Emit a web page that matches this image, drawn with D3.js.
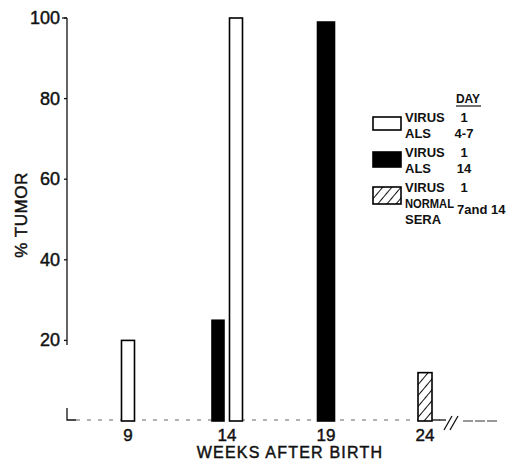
<!DOCTYPE html>
<html>
<head>
<meta charset="utf-8">
<script src="https://cdn.jsdelivr.net/npm/d3@7"></script>
<style>
body { margin: 0; background: #fff; }
text { font-family: "Liberation Sans", Arial, sans-serif; fill: #111; }
.axl { stroke: #111; stroke-width: 0.45; }
</style>
</head>
<body>
<div id="chart"></div>
<script>
// data
const weeks = ['9', '14', '19', '24'];
const yTicks = [20, 40, 60, 80, 100];
const seriesNames = ['als47', 'als14', 'normal'];
const als47Values = [20, 100, null, null];
const als14Values = [null, 25, 99, null];
const normalValues = [null, null, null, 12];
const legendLabels = [['VIRUS', 'ALS'], ['VIRUS', 'ALS'], ['VIRUS', 'NORMAL', 'SERA']];
const legendDays = [['1', '4-7'], ['1', '14'], ['1', '7and 14']];

const width = 510, height = 463;
const svg = d3.select('#chart').append('svg')
    .attr('width', width).attr('height', height);

// hatch for the normal sera bar
const pat = svg.append('defs').append('pattern')
    .attr('id', 'hatch')
    .attr('patternUnits', 'userSpaceOnUse')
    .attr('width', 7).attr('height', 7)
    .attr('patternTransform', 'rotate(40)');
pat.append('rect').attr('width', 7).attr('height', 7).attr('fill', '#fff');
pat.append('line').attr('x1', 0).attr('y1', 0).attr('x2', 0).attr('y2', 7)
    .attr('stroke', '#111').attr('stroke-width', 2);

const y = d3.scaleLinear().domain([0, 100]).range([421, 18]);
const x = d3.scalePoint().domain(weeks).range([128, 425]);

// y axis
svg.append('line').attr('x1', 67).attr('x2', 67).attr('y1', y(100)).attr('y2', 345)
    .attr('stroke', '#111').attr('stroke-width', 1.3);
svg.append('path').attr('d', 'M67,408 V420 H76').attr('fill', 'none')
    .attr('stroke', '#111').attr('stroke-width', 1.3);
svg.append('line').attr('x1', 67).attr('x2', 62).attr('y1', y(100)).attr('y2', y(100))
    .attr('stroke', '#111').attr('stroke-width', 1.3);
svg.selectAll('.ytick').data(yTicks).enter().append('line')
    .attr('x1', 64).attr('x2', 67)
    .attr('y1', d => y(d)).attr('y2', d => y(d))
    .attr('stroke', '#111').attr('stroke-width', 1.3);
svg.selectAll('.ylab').data(yTicks).enter().append('text')
    .attr('class', 'axl')
    .attr('x', 60).attr('y', d => y(d) + 6)
    .attr('text-anchor', 'end')
    .attr('font-size', 18)
    .text(d => d);
svg.append('text')
    .attr('class', 'axl')
    .attr('transform', 'translate(27,215) rotate(-90)')
    .attr('text-anchor', 'middle')
    .attr('font-size', 17)
    .attr('letter-spacing', 0.5)
    .text('% TUMOR');

// baseline, broken past 24
svg.append('line').attr('x1', 76).attr('x2', 440).attr('y1', 420).attr('y2', 420)
    .attr('stroke', '#666').attr('stroke-width', 1).attr('stroke-dasharray', '4,7');
svg.append('line').attr('x1', 432).attr('x2', 446).attr('y1', 420).attr('y2', 420)
    .attr('stroke', '#111').attr('stroke-width', 1.3);
svg.append('path').attr('d', 'M444,430 L452,416 M450,430 L458,416').attr('fill', 'none')
    .attr('stroke', '#111').attr('stroke-width', 1.3);
svg.append('line').attr('x1', 463).attr('x2', 497).attr('y1', 421).attr('y2', 421)
    .attr('stroke', '#333').attr('stroke-width', 1).attr('stroke-dasharray', '10,2');

svg.selectAll('.xlab').data(weeks).enter().append('text')
    .attr('class', 'axl')
    .attr('x', d => x(d)).attr('y', 441)
    .attr('text-anchor', 'middle')
    .attr('font-size', 17)
    .text(d => d);
svg.append('text').attr('x', 290).attr('y', 458)
    .attr('class', 'axl')
    .attr('text-anchor', 'middle').attr('font-size', 16)
    .attr('letter-spacing', 1.2)
    .text('WEEKS AFTER BIRTH');

// bars
const offsets = {als47: [0, 9, 0, 0], als14: [0, -9, 0, 0], normal: [0, 0, 0, 0]};
const fills = {als47: '#fff', als14: '#000', normal: 'url(#hatch)'};
const widths = {als47: 13, als14: 12, normal: 14};
const allSeries = {als47: als47Values, als14: als14Values, normal: normalValues};

seriesNames.forEach(name => {
    const vals = allSeries[name];
    // the lone black bar at 19 is drawn wider
    const bw = i => (name === 'als14' && i === 2) ? 17 : widths[name];
    svg.selectAll('.bar-' + name)
        .data(vals.map((v, i) => ({v, i})).filter(d => d.v !== null))
        .enter().append('rect')
        .attr('x', d => x(weeks[d.i]) + offsets[name][d.i] - bw(d.i) / 2)
        .attr('y', d => y(d.v))
        .attr('width', d => bw(d.i))
        .attr('height', d => y(0) - y(d.v))
        .attr('fill', fills[name])
        .attr('stroke', '#000')
        .attr('stroke-width', 1.6);
});

// legend
const legY = [117, 152, 187];
const legH = [13, 15, 17];
const lg = svg.append('g');
lg.append('text').attr('x', 468).attr('y', 103).attr('text-anchor', 'middle')
    .attr('font-size', 12).attr('font-weight', 'bold').text('DAY');
lg.append('line').attr('x1', 456).attr('x2', 481).attr('y1', 106).attr('y2', 106)
    .attr('stroke', '#111').attr('stroke-width', 1.2);
seriesNames.forEach((name, i) => {
    lg.append('rect').attr('x', 373).attr('y', legY[i])
        .attr('width', 28).attr('height', legH[i])
        .attr('fill', fills[name]).attr('stroke', '#000').attr('stroke-width', 1.6);
    legendLabels[i].forEach((t, j) => {
        const txt = lg.append('text').attr('x', 405).attr('y', legY[i] + 5 + j * 16)
            .attr('font-size', 13).attr('font-weight', 'bold').text(t);
        if (t.length > 5) txt.attr('textLength', 49).attr('lengthAdjust', 'spacingAndGlyphs');
    });
});
const dayY = [[122, 138], [157, 173], [192, 214]];
legendDays.forEach((ds, i) => {
    ds.forEach((t, j) => {
        const wide = i === 2 && j === 1;
        lg.append('text').attr('x', wide ? 457 : 464).attr('y', dayY[i][j])
            .attr('text-anchor', wide ? 'start' : 'middle')
            .attr('font-size', 13).attr('font-weight', 'bold').text(t);
    });
});
</script>
</body>
</html>
